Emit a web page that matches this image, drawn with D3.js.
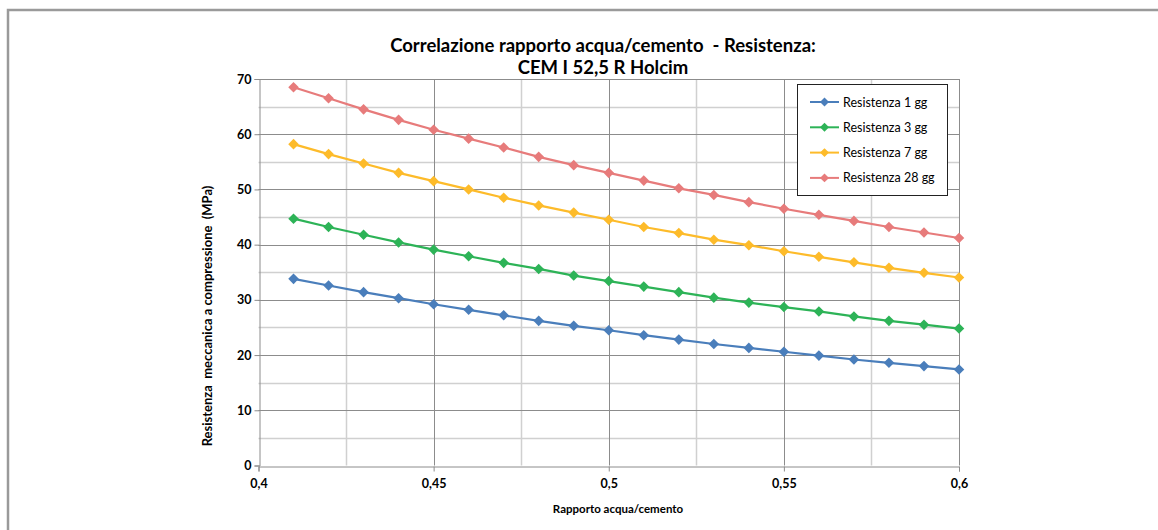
<!DOCTYPE html>
<html><head><meta charset="utf-8">
<script src="https://cdn.jsdelivr.net/npm/d3@7"></script>
<style>body{margin:0;background:#fff}svg{display:block}text{font-family:Lato,"Open Sans",sans-serif}</style>
</head><body><svg id="c" width="1158" height="530"></svg>
<script>
const xValues = [0.41,0.42,0.43,0.44,0.45,0.46,0.47,0.48,0.49,0.50,0.51,0.52,0.53,0.54,0.55,0.56,0.57,0.58,0.59,0.60];
const res1 = [33.8,32.6,31.4,30.3,29.2,28.2,27.2,26.2,25.3,24.5,23.6,22.8,22.0,21.3,20.6,19.9,19.2,18.6,18.0,17.4];
const res3 = [44.7,43.2,41.8,40.4,39.1,37.9,36.7,35.6,34.4,33.4,32.4,31.4,30.4,29.5,28.7,27.9,27.0,26.2,25.5,24.8];
const res7 = [58.2,56.4,54.7,53.0,51.5,50.0,48.5,47.1,45.8,44.5,43.2,42.1,40.9,39.9,38.8,37.8,36.8,35.8,34.9,34.05];
const res28 = [68.5,66.5,64.5,62.6,60.8,59.2,57.6,55.9,54.4,53.0,51.6,50.2,49.0,47.7,46.5,45.4,44.3,43.2,42.2,41.2];
const seriesNames = ["Resistenza 1 gg","Resistenza 3 gg","Resistenza 7 gg","Resistenza 28 gg"];
const seriesColors = ["#4a7ebb","#2db357","#fdbb2a","#e77b7b"];
const yTicks = [0,10,20,30,40,50,60,70];
const xTicks = [0.4,0.45,0.5,0.55,0.6];
const titleLines = ["Correlazione rapporto acqua/cemento  - Resistenza:","CEM I 52,5 R Holcim"];
const xTitle = "Rapporto acqua/cemento";
const yTitle = "Resistenza  meccanica a compressione  (MPa)";

const svg = d3.select("#c");
svg.append("rect").attr("x",8).attr("y",10).attr("width",1200).attr("height",600)
  .attr("fill","none").attr("stroke","#9a9a9a").attr("stroke-width",2.5);

const L=258.5,R=959,T=79,B=465.5;
const x = d3.scaleLinear().domain([0.4,0.6]).range([L,R]);
const y = d3.scaleLinear().domain([0,70]).range([B,T]);

const g = svg.append("g");
const minorY = d3.range(5,70,10);
g.selectAll(".gmy").data(minorY).enter().append("line")
 .attr("x1",L).attr("x2",R).attr("y1",d=>Math.round(y(d))+0.5).attr("y2",d=>Math.round(y(d))+0.5)
 .attr("stroke","#d0d0d0").attr("stroke-width",1.5);
const minorX = [0.425,0.475,0.525,0.575];
g.selectAll(".gmx").data(minorX).enter().append("line")
 .attr("y1",T).attr("y2",B).attr("x1",d=>Math.round(x(d))+0.5).attr("x2",d=>Math.round(x(d))+0.5)
 .attr("stroke","#d0d0d0").attr("stroke-width",1.5);
g.selectAll(".gy").data(yTicks.slice(1)).enter().append("line")
 .attr("x1",L).attr("x2",R).attr("y1",d=>Math.round(y(d))+0.5).attr("y2",d=>Math.round(y(d))+0.5)
 .attr("stroke","#8c8c8c").attr("stroke-width",1);
g.selectAll(".gx").data(xTicks.slice(1)).enter().append("line")
 .attr("y1",T).attr("y2",B).attr("x1",d=>Math.round(x(d))+0.5).attr("x2",d=>Math.round(x(d))+0.5)
 .attr("stroke","#8c8c8c").attr("stroke-width",1);

const fmt = d=>String(d).replace(".",",");
const yAxis = d3.axisLeft(y).tickValues(yTicks).tickSize(5).tickPadding(3).tickFormat(d=>d);
const xAxis = d3.axisBottom(x).tickValues(xTicks).tickSize(5).tickPadding(8).tickFormat(fmt);
const ya = svg.append("g").attr("transform",`translate(${Math.round(L)+0.5},0)`).call(yAxis);
const xa = svg.append("g").attr("transform",`translate(0,${Math.round(B)+0.5})`).call(xAxis);
[ya,xa].forEach(a=>{
  a.select(".domain").attr("stroke","#8c8c8c");
  a.selectAll(".tick line").attr("stroke","#8c8c8c");
  a.selectAll("text").attr("font-size",12.5).attr("font-weight","bold").attr("fill","#000")
   .style("font-family","Lato, sans-serif");
});

const allSeries=[res1,res3,res7,res28];
const line = d3.line().x((d,i)=>x(xValues[i])).y(d=>y(d));
const diamond = d3.symbol().type(d3.symbolSquare).size(56);
allSeries.forEach((s,k)=>{
  svg.append("path").datum(s).attr("d",line).attr("fill","none")
    .attr("stroke",seriesColors[k]).attr("stroke-width",2.2);
  svg.selectAll(".m"+k).data(s).enter().append("path")
    .attr("transform",(d,i)=>`translate(${x(xValues[i])},${y(d)}) rotate(45)`)
    .attr("d",diamond).attr("fill",seriesColors[k]);
});

svg.selectAll(".title").data(titleLines).enter().append("text")
  .attr("x",603).attr("y",(d,i)=>52+i*22).attr("text-anchor","middle")
  .attr("font-size",18.5).attr("font-weight","bold").attr("fill","#000").text(d=>d)
  .attr("xml:space","preserve");

svg.append("text").attr("x",618).attr("y",513).attr("text-anchor","middle")
  .attr("font-size",11.5).attr("font-weight","bold").text(xTitle);
svg.append("text").attr("transform","translate(212,316) rotate(-90)").attr("text-anchor","middle")
  .attr("font-size",13).attr("font-weight","bold").attr("xml:space","preserve").text(yTitle);

const lg = svg.append("g");
lg.append("rect").attr("x",797.5).attr("y",84.5).attr("width",150).attr("height",111)
  .attr("fill","#fff").attr("stroke","#222").attr("stroke-width",1);
seriesNames.forEach((n,k)=>{
  const yy = 102+k*25.3;
  lg.append("line").attr("x1",810).attr("x2",839).attr("y1",yy).attr("y2",yy)
    .attr("stroke",seriesColors[k]).attr("stroke-width",2);
  lg.append("path").attr("transform",`translate(824.5,${yy}) rotate(45)`)
    .attr("d",d3.symbol().type(d3.symbolSquare).size(40)).attr("fill",seriesColors[k]);
  lg.append("text").attr("x",843).attr("y",yy+4.5).attr("font-size",12.5).attr("fill","#000").text(n);
});
</script></body></html>
